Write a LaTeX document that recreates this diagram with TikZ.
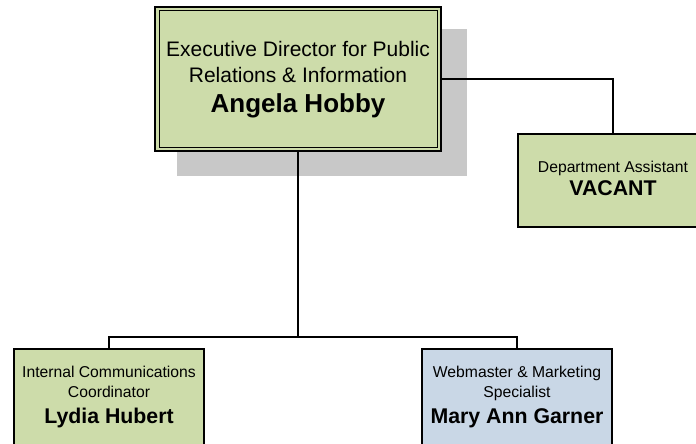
\documentclass[tikz,border=0pt]{standalone}
\usepackage{fontspec}
\setmainfont{Liberation Sans}
\definecolor{boxgreen}{RGB}{205,220,170}
\definecolor{boxblue}{RGB}{201,215,230}
\definecolor{shadowgray}{RGB}{200,200,200}
\begin{document}
\begin{tikzpicture}[x=1pt,y=-1pt,
  box/.style={draw=black, line width=2pt, rectangle, inner sep=0pt},
  conn/.style={draw=black, line width=2pt},
  bigttl/.style={anchor=base, inner sep=0pt, font=\fontsize{21}{25}\selectfont},
  bigname/.style={anchor=base, inner sep=0pt, font=\fontsize{26}{30}\selectfont\bfseries},
  ttl/.style={anchor=base, inner sep=0pt, font=\fontsize{15.7}{19}\selectfont},
  nm/.style={anchor=base, inner sep=0pt, font=\fontsize{21.3}{25}\selectfont\bfseries}
]
\useasboundingbox (0,0) rectangle (696,444);
% shadow and top box
\node[fill=shadowgray, inner sep=0pt, minimum width=290pt, minimum height=147pt] (shadow) at (322,102.5) {};
\node[box, fill=boxgreen, minimum width=286pt, minimum height=144pt] (top) at (298,79) {};
\draw[line width=1pt] ([xshift=5pt,yshift=-5pt]top.north west) rectangle ([xshift=-5pt,yshift=5pt]top.south east);
\node[bigttl] (t1) at (298,56.5) {Executive Director for Public};
\node[bigttl] (t2) at (298,82) {Relations \& Information};
\node[bigname] (t3) at (298,112) {Angela Hobby};
% assistant
\node[box, fill=boxgreen, minimum width=190pt, minimum height=93pt] (asst) at (613,180.5) {};
\node[ttl] (a1) at (613,172.5) {Department Assistant};
\node[nm] (a2) at (613,195.5) {VACANT};
% bottom boxes
\node[box, fill=boxgreen, minimum width=190pt, minimum height=110pt] (lydia) at (109,404) {};
\node[ttl] (l1) at (109,377) {Internal Communications};
\node[ttl] (l2) at (109,397) {Coordinator};
\node[nm] (l3) at (109,423) {Lydia Hubert};
\node[box, fill=boxblue, minimum width=190pt, minimum height=110pt] (mary) at (517,404) {};
\node[ttl] (m1) at (517,377) {Webmaster \& Marketing};
\node[ttl] (m2) at (517,397) {Specialist};
\node[nm] (m3) at (517,423) {Mary Ann Garner};
% connectors
\coordinate (bus) at (298,337);
\draw[conn] (top.east) -| (asst.north);
\draw[conn] (top.south) -- (bus);
\draw[conn] (bus) -| (lydia.north);
\draw[conn] (bus) -| (mary.north);
\end{tikzpicture}
\end{document}
